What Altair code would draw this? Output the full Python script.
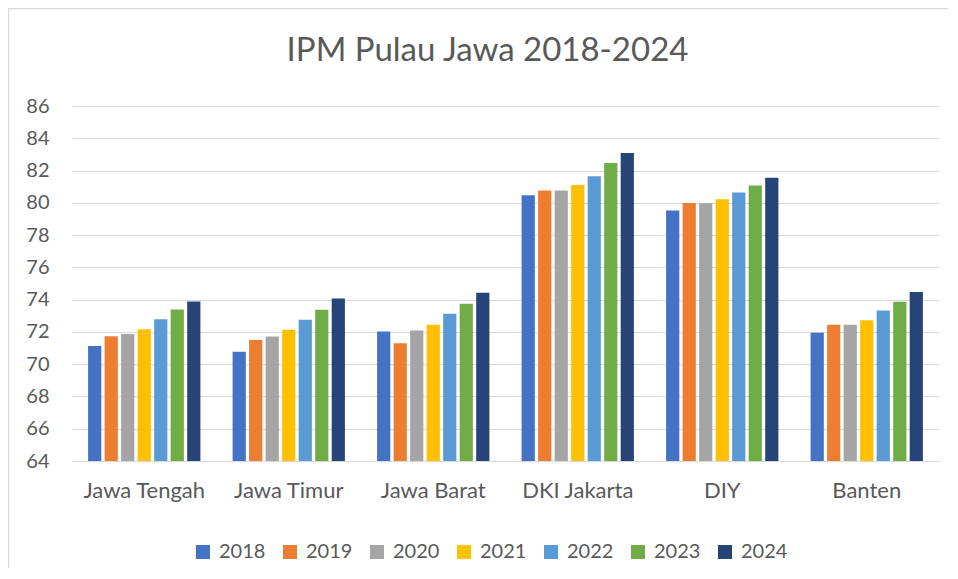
import altair as alt
import pandas as pd

provinces = ["Jawa Tengah", "Jawa Timur", "Jawa Barat", "DKI Jakarta", "DIY", "Banten"]
years = ["2018", "2019", "2020", "2021", "2022", "2023", "2024"]

ipm_2018 = [71.12, 70.77, 72.02, 80.47, 79.53, 71.95]
ipm_2019 = [71.73, 71.50, 71.30, 80.76, 79.99, 72.44]
ipm_2020 = [71.87, 71.71, 72.09, 80.77, 79.97, 72.45]
ipm_2021 = [72.16, 72.14, 72.45, 81.11, 80.22, 72.72]
ipm_2022 = [72.79, 72.75, 73.12, 81.65, 80.64, 73.32]
ipm_2023 = [73.39, 73.38, 73.74, 82.46, 81.07, 73.87]
ipm_2024 = [73.88, 74.07, 74.42, 83.08, 81.55, 74.48]

colors = ["#4472C4", "#ED7D31", "#A5A5A5", "#FFC000", "#5B9BD5", "#70AD47", "#264478"]

series = [ipm_2018, ipm_2019, ipm_2020, ipm_2021, ipm_2022, ipm_2023, ipm_2024]
rows = []
for yr, vals in zip(years, series):
    for prov, v in zip(provinces, vals):
        rows.append({"Provinsi": prov, "Tahun": yr, "IPM": v})
df = pd.DataFrame(rows)

FONT = "Lato"
TXT = "#595959"
GRID = "#D9D9D9"

bars = alt.Chart(df).mark_bar().encode(
    x=alt.X(
        "Provinsi:N",
        sort=provinces,
        scale=alt.Scale(paddingInner=0.2, paddingOuter=0.1),
        axis=alt.Axis(
            title=None, labelAngle=0, labelFont=FONT, labelFontSize=22,
            labelColor=TXT, labelPadding=19, ticks=False,
            domainColor=GRID, domainWidth=1,
        ),
    ),
    xOffset=alt.XOffset(
        "Tahun:N", sort=years,
        scale=alt.Scale(paddingInner=0.2, paddingOuter=0.1),
    ),
    y=alt.Y(
        "IPM:Q",
        scale=alt.Scale(domain=[64, 86], zero=False, nice=False),
        axis=alt.Axis(
            title=None, values=list(range(64, 87, 2)), labelFont=FONT,
            labelFontSize=20, labelColor=TXT, labelPadding=23, ticks=False,
            domain=False, gridColor=GRID, gridWidth=1,
        ),
    ),
    y2=alt.datum(64),
    color=alt.Color(
        "Tahun:N",
        sort=years,
        scale=alt.Scale(domain=years, range=colors),
        legend=alt.Legend(
            title=None, orient="none", direction="horizontal",
            legendX=121, legendY=436, symbolType="square", symbolSize=196,
            symbolStrokeWidth=0, labelFont=FONT, labelFontSize=20,
            labelColor=TXT, labelOffset=6, columnPadding=14, padding=0,
        ),
    ),
)

border = alt.Chart(pd.DataFrame({"a": [0]})).mark_rect(
    fill=None, stroke=GRID, strokeWidth=1.5
).encode(
    x=alt.value(-63.5), x2=alt.value(1200),
    y=alt.value(-97.5), y2=alt.value(1200),
)

chart = alt.layer(border, bars).properties(
    width=867,
    height=355,
    padding={"left": 64, "top": 98, "right": 9, "bottom": 107},
    autosize=alt.AutoSizeParams(type="none"),
    title=alt.Title(
        "IPM Pulau Jawa 2018-2024", font=FONT, fontSize=33,
        fontWeight="normal", color=TXT, anchor="middle", offset=-86,
        baseline="alphabetic", dx=-18,
    ),
).configure_view(stroke=None)

chart.save("out.html", embed_options={"renderer": "svg", "actions": False})
